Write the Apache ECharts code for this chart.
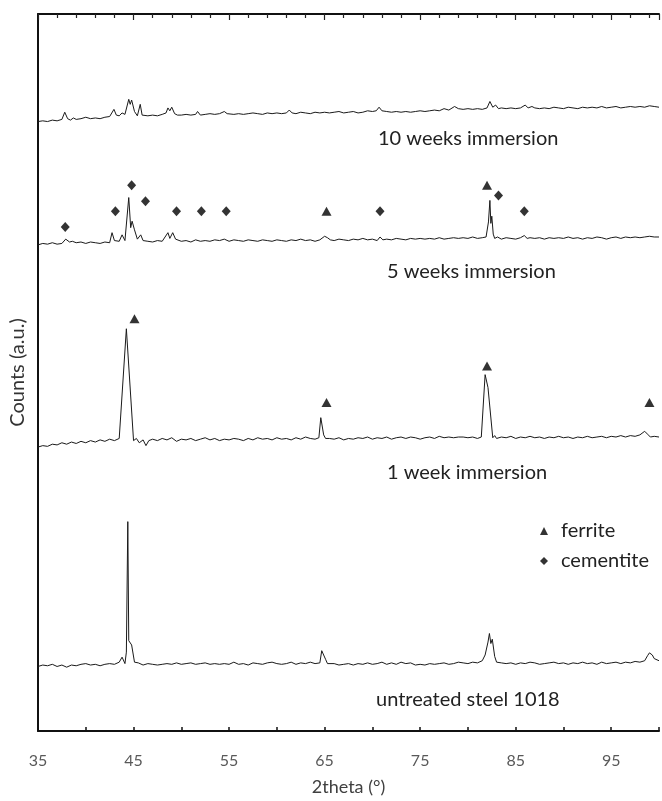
<!DOCTYPE html>
<html>
<head>
<meta charset="utf-8">
<script src="https://cdn.jsdelivr.net/npm/echarts@6/dist/echarts.min.js"></script>
<style>html,body{margin:0;padding:0;background:#fff;}#c{width:662px;height:801px;}</style>
</head>
<body>
<div id="c"></div>
<script>
// ---- data (2theta in degrees, counts in arbitrary offset units) ----
const untreated = [[35,9.0],[35.5,9.2],[36,9.1],[36.5,9.3],[37,9.0],[37.5,9.2],[38,8.9],[38.5,9.2],[39,9.1],[39.5,9.3],[40,9.4],[40.5,9.2],[41,9.3],[41.5,9.1],[42,9.3],[42.5,9.4],[43,9.3],[43.5,9.6],[43.8,10.3],[44.1,9.4],[44.25,11.0],[44.4,29.2],[44.5,12.6],[44.8,12.0],[45.0,11.8],[45.1,9.6],[45.5,9.5],[46,9.2],[46.5,9.4],[47,9.3],[47.5,9.2],[48,9.3],[48.5,9.4],[49,9.3],[49.5,9.5],[50,9.3],[50.5,9.4],[51,9.5],[51.5,9.3],[52,9.4],[52.5,9.5],[53,9.3],[53.5,9.4],[54,9.3],[54.5,9.4],[55,9.3],[55.5,9.6],[56,9.3],[56.5,9.4],[57,9.2],[57.5,9.5],[58,9.4],[58.5,9.3],[59,9.5],[59.5,9.6],[60,9.4],[60.5,9.3],[61,9.4],[61.5,9.6],[62,9.3],[62.5,9.5],[63,9.4],[63.5,9.6],[64,9.4],[64.5,9.5],[64.7,11.2],[64.9,11.4],[65.1,10.0],[65.3,9.4],[65.5,9.3],[66,9.4],[66.5,9.2],[67,9.3],[67.5,9.4],[68,9.2],[68.5,9.4],[69,9.3],[69.5,9.5],[70,9.3],[70.5,9.4],[71,9.6],[71.5,9.3],[72,9.5],[72.5,9.3],[73,9.6],[73.5,9.4],[74,9.5],[74.5,9.2],[75,9.3],[75.5,9.2],[76,9.4],[76.5,9.3],[77,9.4],[77.5,9.5],[78,9.3],[78.5,9.4],[79,9.6],[79.5,9.5],[80,9.4],[80.5,9.6],[81,9.5],[81.5,9.8],[81.8,10.6],[82.1,12.4],[82.25,13.6],[82.4,12.2],[82.55,12.8],[82.8,10.4],[83.0,9.6],[83.5,9.5],[84,9.4],[84.5,9.5],[85,9.3],[85.5,9.5],[86,9.4],[86.5,9.6],[87,9.5],[87.5,9.3],[88,9.4],[88.5,9.5],[89,9.6],[89.5,9.4],[90,9.5],[90.5,9.3],[91,9.5],[91.5,9.4],[92,9.6],[92.5,9.4],[93,9.5],[93.5,9.3],[94,9.6],[94.5,9.4],[95,9.5],[95.5,9.6],[96,9.4],[96.5,9.6],[97,9.5],[97.5,9.7],[98,9.6],[98.5,9.8],[98.8,10.5],[99.0,10.9],[99.3,10.6],[99.5,10.1],[100,9.8]];

const week1 = [[35,39.6],[35.5,39.8],[36,39.7],[36.5,40.0],[37,39.9],[37.5,40.2],[38,40.0],[38.5,40.3],[39,40.1],[39.5,40.4],[40,40.2],[40.5,40.5],[41,40.3],[41.5,40.6],[42,40.4],[42.5,40.7],[43,40.5],[43.5,40.8],[43.7,40.6],[44.25,56.1],[45.0,40.5],[45.3,40.8],[45.6,40.2],[46,40.6],[46.3,39.8],[46.6,40.5],[47,40.7],[47.5,40.5],[48,40.8],[48.5,40.6],[49,40.9],[49.5,40.4],[50,40.7],[50.5,40.6],[51,40.8],[51.5,40.5],[52,40.7],[52.5,40.9],[53,40.6],[53.5,40.8],[54,40.5],[54.5,40.7],[55,40.6],[55.5,40.8],[56,40.7],[56.5,40.5],[57,40.8],[57.5,40.6],[58,40.9],[58.5,40.7],[59,40.8],[59.5,40.6],[60,40.9],[60.5,40.7],[61,40.8],[61.5,40.6],[62,40.9],[62.5,40.7],[63,41.0],[63.5,40.8],[64,40.7],[64.4,40.9],[64.6,43.7],[64.9,41.3],[65.1,40.8],[65.5,40.8],[66,40.7],[66.5,40.9],[67,40.6],[67.5,40.8],[68,40.7],[68.5,40.9],[69,40.8],[69.5,41.0],[70,40.7],[70.5,40.9],[71,40.8],[71.5,41.0],[72,40.7],[72.5,40.9],[73,41.0],[73.5,40.8],[74,41.0],[74.5,40.9],[75,40.7],[75.5,40.9],[76,41.0],[76.5,40.8],[77,41.1],[77.5,40.9],[78,41.0],[78.5,40.9],[79,41.0],[79.5,41.0],[80,40.9],[80.5,41.0],[81,40.8],[81.4,41.0],[81.8,49.7],[82.1,47.9],[82.6,40.9],[82.8,41.2],[83,40.8],[83.5,41.0],[84,40.9],[84.5,41.1],[85,40.8],[85.5,41.0],[86,40.9],[86.5,41.1],[87,40.9],[87.5,41.0],[88,40.8],[88.5,41.0],[89,40.9],[89.5,41.1],[90,40.9],[90.5,41.0],[91,40.8],[91.5,41.0],[92,40.9],[92.5,41.1],[93,40.9],[93.5,41.0],[94,41.1],[94.5,40.9],[95,41.1],[95.5,41.0],[96,41.2],[96.5,41.0],[97,41.2],[97.5,41.1],[98,41.3],[98.5,41.8],[98.8,41.4],[99.1,41.0],[99.5,41.1],[100,41.0]];

const week5 = [[35,67.8],[35.5,68.0],[36,67.9],[36.5,68.1],[37,67.9],[37.5,68.0],[37.9,68.6],[38.3,68.2],[38.6,68.3],[39,68.1],[39.5,68.2],[40,68.0],[40.5,68.2],[41,68.1],[41.5,68.0],[42,68.2],[42.5,68.1],[42.75,69.5],[43,68.4],[43.5,68.3],[43.8,69.2],[44.1,68.4],[44.5,74.4],[44.7,70.2],[44.85,71.1],[45.1,69.9],[45.4,68.6],[45.75,69.2],[46,68.4],[46.5,68.3],[47,68.2],[47.5,68.4],[48,68.3],[48.6,69.5],[48.8,68.7],[49.1,69.5],[49.4,68.6],[50,68.3],[50.5,68.4],[51,68.2],[51.5,68.5],[52,68.3],[52.5,68.4],[53,68.3],[53.5,68.5],[54,68.4],[54.5,68.6],[55,68.3],[55.5,68.5],[56,68.4],[56.5,68.3],[57,68.5],[57.5,68.4],[58,68.3],[58.5,68.5],[59,68.4],[59.5,68.3],[60,68.5],[60.5,68.4],[61,68.3],[61.5,68.5],[62,68.4],[62.5,68.6],[63,68.4],[63.5,68.5],[64,68.3],[64.5,68.5],[65.0,69.0],[65.3,68.8],[65.6,68.5],[66,68.4],[66.5,68.6],[67,68.5],[67.5,68.4],[68,68.6],[68.5,68.5],[69,68.7],[69.5,68.5],[70,68.6],[70.5,68.4],[70.8,68.9],[71.1,68.5],[71.5,68.6],[72,68.5],[72.5,68.7],[73,68.6],[73.5,68.5],[74,68.7],[74.5,68.6],[75,68.7],[75.5,68.6],[76,68.7],[76.5,68.6],[77,68.8],[77.5,68.6],[78,68.7],[78.5,68.8],[79,68.7],[79.5,68.8],[80,68.7],[80.5,68.9],[81,68.7],[81.5,68.8],[81.9,68.9],[82.15,71.0],[82.3,74.0],[82.4,70.8],[82.5,71.8],[82.65,69.3],[82.8,68.7],[83.1,68.9],[83.5,68.6],[84,68.8],[84.5,68.7],[85,68.6],[85.5,68.8],[85.9,69.1],[86.2,68.7],[86.5,68.8],[87,68.7],[87.5,68.8],[88,68.6],[88.5,68.8],[89,68.7],[89.5,68.8],[90,68.7],[90.5,68.9],[91,68.7],[91.5,68.8],[92,68.6],[92.5,68.8],[93,68.7],[93.5,68.9],[94,68.8],[94.5,68.6],[95,68.8],[95.5,68.9],[96,68.7],[96.5,68.9],[97,68.8],[97.5,68.9],[98,68.8],[98.5,68.9],[99,69.0],[99.5,68.9],[100,68.9]];

const week10 = [[35,85.0],[35.5,85.1],[36,85.0],[36.5,85.2],[37,85.1],[37.5,85.3],[37.8,86.3],[38.1,85.4],[38.4,85.2],[38.7,85.5],[39,85.3],[39.5,85.4],[40,85.6],[40.5,85.4],[41,85.5],[41.5,85.4],[42,85.6],[42.5,85.7],[42.95,86.7],[43.2,85.9],[43.5,85.8],[43.8,86.2],[44.1,86.0],[44.5,88.1],[44.65,87.4],[44.8,88.0],[45.1,86.4],[45.4,85.8],[45.7,87.4],[45.9,85.9],[46.5,85.8],[47,85.9],[47.5,85.8],[48,86.0],[48.4,86.2],[48.6,86.9],[48.8,86.5],[49.0,87.0],[49.3,86.1],[49.6,85.9],[50,85.9],[50.5,86.0],[51,85.9],[51.5,86.0],[51.7,86.4],[52,85.9],[52.5,86.0],[53,86.1],[53.5,86.0],[54,86.1],[54.5,86.4],[54.8,86.1],[55.5,86.0],[56,86.1],[56.5,86.0],[57,86.1],[57.5,86.2],[58,86.1],[58.5,86.0],[59,86.2],[59.5,86.1],[60,86.2],[60.5,86.1],[61,86.2],[61.3,86.6],[61.6,86.2],[62,86.1],[62.5,86.3],[63,86.2],[63.5,86.1],[64,86.3],[64.5,86.2],[65,86.3],[65.5,86.2],[66,86.3],[66.5,86.4],[67,86.2],[67.5,86.3],[68,86.4],[68.5,86.2],[69,86.3],[69.5,86.5],[70,86.4],[70.4,86.5],[70.7,87.0],[71,86.5],[71.5,86.4],[72,86.3],[72.5,86.4],[73,86.3],[73.5,86.4],[74,86.3],[74.5,86.4],[75,86.5],[75.5,86.4],[76,86.5],[76.5,86.6],[77,86.5],[77.5,86.8],[78,86.6],[78.6,87.1],[79,86.8],[79.5,86.7],[80,86.8],[80.5,86.7],[81,86.8],[81.5,86.7],[82,86.9],[82.3,87.8],[82.6,87.0],[82.9,87.3],[83.2,86.8],[83.5,86.9],[84,86.8],[84.5,86.9],[85,86.8],[85.5,86.9],[86,87.3],[86.3,86.9],[86.7,87.1],[87,86.9],[87.5,86.8],[88,86.9],[88.5,86.8],[89,87.0],[89.5,86.9],[90,86.8],[90.5,87.0],[91,86.9],[91.5,86.8],[92,87.0],[92.5,86.9],[93,87.0],[93.5,86.9],[94,87.1],[94.5,86.9],[95,87.0],[95.5,87.1],[96,86.9],[96.5,87.0],[97,87.1],[97.5,87.0],[98,87.1],[98.5,87.0],[99,87.2],[99.5,87.1],[100,87.0]];

const ferrite = [[65.2,72.5],[82.0,76.1],[45.1,57.5],[65.2,45.8],[82.0,50.9],[99.0,45.8]];
const cementite = [[37.85,70.3],[43.1,72.5],[44.8,76.1],[46.25,73.9],[49.5,72.5],[52.1,72.5],[54.7,72.5],[70.8,72.5],[83.2,74.7],[85.9,72.5]];

const curveLabels = ['10 weeks immersion','5 weeks immersion','1 week immersion','untreated steel 1018'];
const xName = '2theta (°)';
const yName = 'Counts (a.u.)';

// ---- chart ----
const chart = echarts.init(document.getElementById('c'), null, {renderer:'canvas'});
const FONT = 'Lato';
const lineSeries = (data) => ({type:'line', data, showSymbol:false, symbol:'none', silent:true,
  lineStyle:{color:'#1a1a1a', width:1}, xAxisIndex:0, yAxisIndex:0, animation:false, z:2});
const txt = (s, x, y) => ({type:'text', x, y, style:{text:s, fill:'#222', font:'20px '+FONT, verticalAlign:'middle', textAlign:'left'}});

chart.setOption({
  animation:false,
  backgroundColor:'#fff',
  grid:{left:36, width:634, top:14, bottom:61, containLabel:false},
  xAxis:[
    {type:'value', min:35, max:100, interval:5, position:'bottom',
     name:xName, nameLocation:'middle', nameGap:47,
     nameTextStyle:{fontFamily:FONT, fontSize:18, color:'#404040'},
     axisLine:{show:true, onZero:false, lineStyle:{color:'#111', width:2}},
     axisTick:{show:true, inside:true, length:4, lineStyle:{color:'#111', width:1.5}},
     axisLabel:{show:true, margin:22, fontFamily:FONT, fontSize:16, color:'#595959',
       formatter:(v)=> ((v-35)%10===0 ? String(v) : '')},
     splitLine:{show:false}},
    {type:'value', min:35, max:100, interval:10, position:'top',
     axisLine:{show:true, onZero:false, lineStyle:{color:'#111', width:2}},
     axisTick:{show:true, inside:true, length:6, lineStyle:{color:'#222', width:1.2}},
     minorTick:{show:true, splitNumber:5, length:4, lineStyle:{color:'#222', width:1.2}},
     axisLabel:{show:false}, splitLine:{show:false}}
  ],
  yAxis:{type:'value', min:0, max:100,
    name:yName, nameLocation:'middle', nameGap:10, nameRotate:90,
    nameTextStyle:{fontFamily:FONT, fontSize:20, color:'#333'},
    axisLine:{show:true, lineStyle:{color:'#111', width:2}},
    axisTick:{show:false}, axisLabel:{show:false}, splitLine:{show:false}},
  legend:{show:true, orient:'vertical', left:535, top:516, itemWidth:8, itemHeight:8, itemGap:10,
    data:[{name:'ferrite', icon:'triangle'},{name:'cementite', icon:'diamond'}],
    textStyle:{fontFamily:FONT, fontSize:20, color:'#222', padding:[0,0,0,8]}},
  series:[
    lineSeries(week10), lineSeries(week5), lineSeries(week1), lineSeries(untreated),
    {name:'ferrite', type:'scatter', data:ferrite, symbol:'triangle', symbolSize:[10,9],
      itemStyle:{color:'#000'}, silent:true, z:3},
    {name:'cementite', type:'scatter', data:cementite, symbol:'diamond', symbolSize:[9,10],
      itemStyle:{color:'#000'}, silent:true, z:3}
  ],
  graphic:[
    txt(curveLabels[0], 378, 139),
    txt(curveLabels[1], 387, 272),
    txt(curveLabels[2], 387, 473),
    txt(curveLabels[3], 376, 700)
  ]
});
</script>
</body>
</html>
